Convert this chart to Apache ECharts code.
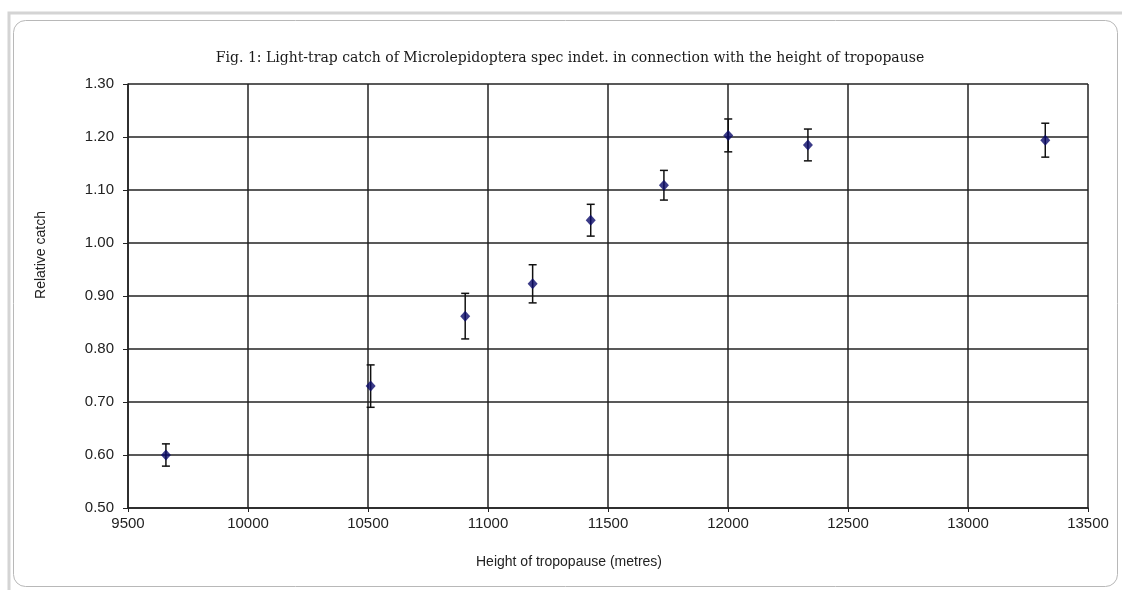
<!DOCTYPE html>
<html><head><meta charset="utf-8">
<script src="https://cdn.jsdelivr.net/npm/echarts@6/dist/echarts.min.js"></script>
<style>html,body{margin:0;padding:0;background:#fff}#c{width:1122px;height:590px}</style>
</head><body><div id="c"></div>
<script>
const heights = [9658, 10511, 10905, 11186, 11428, 11733, 12001, 12333, 13322];
const catchValues = [0.600, 0.730, 0.862, 0.923, 1.043, 1.109, 1.203, 1.185, 1.194];
const errorValues = [0.021, 0.040, 0.043, 0.036, 0.030, 0.028, 0.031, 0.030, 0.032];

const points = heights.map((h, i) => [h, catchValues[i]]);
const bars = heights.map((h, i) => [h, catchValues[i] - errorValues[i], catchValues[i] + errorValues[i]]);

const chart = echarts.init(document.getElementById('c'));
chart.setOption({
  animation: false,
  backgroundColor: '#fff',
  graphic: [
    { type: 'rect', z: -10, silent: true, shape: { x: 9, y: 13, width: 1120, height: 590 }, style: { fill: 'none', stroke: '#d4d4d4', lineWidth: 3 } },
    { type: 'rect', z: -9, silent: true, shape: { x: 13.5, y: 20.5, width: 1104, height: 566, r: 12 }, style: { fill: '#fff', stroke: '#b8b8b8', lineWidth: 1 } }
  ],
  title: {
    text: 'Fig. 1: Light-trap catch of Microlepidoptera spec indet. in connection with the height of tropopause',
    left: 565, top: 46, textAlign: 'center',
    textStyle: { fontFamily: 'DejaVu Serif', fontSize: 14, fontWeight: 'normal', color: '#1a1a1a' }
  },
  grid: { left: 128, right: 34, top: 84, bottom: 82 },
  xAxis: {
    type: 'value', min: 9500, max: 13500, interval: 500,
    name: 'Height of tropopause (metres)', nameLocation: 'middle', nameGap: 47,
    nameTextStyle: { fontFamily: 'Liberation Sans', fontSize: 14, color: '#222', padding: [0, 78, 0, 0] },
    axisLine: { lineStyle: { color: '#222', width: 1.5 } },
    axisTick: { show: true, length: 4, lineStyle: { color: '#222' } },
    axisLabel: { fontFamily: 'Liberation Sans', fontSize: 15, color: '#222', margin: 8, formatter: v => String(v) },
    splitLine: { show: true, lineStyle: { color: '#222', width: 1.5 } }
  },
  yAxis: {
    type: 'value', min: 0.5, max: 1.3, interval: 0.1,
    name: 'Relative catch', nameLocation: 'middle', nameGap: 80, nameRotate: 90,
    nameTextStyle: { fontFamily: 'Liberation Sans', fontSize: 14, color: '#222', padding: [0, 0, 0, 82] },
    axisLine: { show: true, lineStyle: { color: '#222', width: 1.5 } },
    axisTick: { show: true, length: 5, lineStyle: { color: '#222' } },
    axisLabel: { fontFamily: 'Liberation Sans', fontSize: 15, color: '#222', margin: 14, formatter: v => v.toFixed(2) },
    splitLine: { show: true, lineStyle: { color: '#222', width: 1.5 } }
  },
  series: [
    {
      type: 'custom',
      data: bars,
      z: 3,
      renderItem: function (params, api) {
        const x = api.value(0);
        const lo = api.coord([x, api.value(1)]);
        const hi = api.coord([x, api.value(2)]);
        const w = 4;
        const st = { stroke: '#111', lineWidth: 1.5 };
        return {
          type: 'group',
          children: [
            { type: 'line', shape: { x1: lo[0], y1: lo[1], x2: hi[0], y2: hi[1] }, style: st },
            { type: 'line', shape: { x1: lo[0] - w, y1: lo[1], x2: lo[0] + w, y2: lo[1] }, style: st },
            { type: 'line', shape: { x1: hi[0] - w, y1: hi[1], x2: hi[0] + w, y2: hi[1] }, style: st }
          ]
        };
      }
    },
    {
      type: 'scatter',
      data: points,
      symbol: 'diamond',
      symbolSize: [10, 11],
      z: 4,
      itemStyle: { color: '#0a0a6a' }
    }
  ]
});
</script></body></html>
